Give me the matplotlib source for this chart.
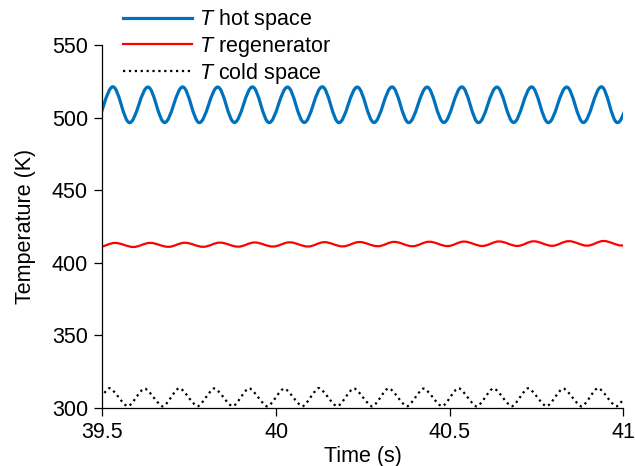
import matplotlib
matplotlib.use("Agg")
import matplotlib.pyplot as plt
from matplotlib.path import Path
from matplotlib.patches import PathPatch
from matplotlib.lines import Line2D

plt.rcParams['font.family'] = ['Liberation Sans', 'DejaVu Sans']
plt.rcParams['mathtext.fontset'] = 'custom'
plt.rcParams['mathtext.it'] = 'Liberation Sans:italic'
plt.rcParams['mathtext.rm'] = 'Liberation Sans'

# turning points (time in s, temperature in K),
# one before the visible window and one after it so the curves run to the edges
hot_t = [39.478, 39.530, 39.578, 39.631, 39.679, 39.731, 39.779, 39.832, 39.880,
         39.932, 39.980, 40.033, 40.081, 40.133, 40.181, 40.234, 40.282, 40.334,
         40.382, 40.435, 40.483, 40.535, 40.583, 40.636, 40.684, 40.736, 40.784,
         40.837, 40.885, 40.937, 40.983, 41.036]
hot_T = [496.6, 521.2, 496.5, 521.0, 496.6, 521.1, 496.5, 521.0, 496.6,
         521.1, 496.5, 521.0, 496.6, 521.2, 496.5, 521.0, 496.6, 521.1,
         496.5, 521.0, 496.6, 521.1, 496.5, 521.0, 496.6, 521.1, 496.5,
         521.0, 496.6, 521.2, 496.5, 521.0]

regen_t = [39.488, 39.536, 39.589, 39.637, 39.690, 39.737, 39.790, 39.838, 39.891,
           39.938, 39.991, 40.039, 40.092, 40.139, 40.192, 40.240, 40.293, 40.340,
           40.393, 40.441, 40.494, 40.541, 40.594, 40.642, 40.695, 40.742, 40.795,
           40.843, 40.896, 40.943, 40.996, 41.044]
regen_T = [410.7, 413.6, 410.8, 413.6, 410.9, 413.7, 410.9, 413.8, 411.0,
           413.9, 411.1, 414.0, 411.1, 414.1, 411.2, 414.2, 411.3, 414.3,
           411.3, 414.4, 411.4, 414.5, 411.5, 414.6, 411.5, 414.7, 411.6,
           414.8, 411.7, 414.9, 411.8, 414.9]

cold_t = [39.473, 39.520, 39.573, 39.621, 39.674, 39.721, 39.774, 39.822, 39.875,
          39.922, 39.975, 40.023, 40.076, 40.123, 40.176, 40.224, 40.277, 40.324,
          40.377, 40.425, 40.478, 40.525, 40.578, 40.626, 40.679, 40.726, 40.779,
          40.827, 40.880, 40.927, 40.980, 41.028]
cold_T = [301.0, 313.4, 301.0, 313.2, 300.9, 313.5, 301.0, 313.3, 301.0,
          313.4, 300.9, 313.2, 301.0, 313.5, 301.0, 313.3, 300.9, 313.4,
          301.0, 313.2, 301.0, 313.5, 300.9, 313.3, 301.0, 313.4, 301.0,
          313.2, 300.9, 313.5, 301.0, 313.3]

x_ticks = [39.5, 40, 40.5, 41]
x_ticklabels = ['39.5', '40', '40.5', '41']
y_ticks = [300, 350, 400, 450, 500, 550]

labels = ['$T$ hot space', '$T$ regenerator', '$T$ cold space']

FS = 15.5


def smooth_path(ts, vs, k):
    """Кривая через точки экстремумов, горизонтальные касательные в каждой"""
    verts = [(ts[0], vs[0])]
    codes = [Path.MOVETO]
    for i in range(len(ts) - 1):
        dt = ts[i + 1] - ts[i]
        verts += [(ts[i] + k * dt, vs[i]), (ts[i + 1] - k * dt, vs[i + 1]),
                  (ts[i + 1], vs[i + 1])]
        codes += [Path.CURVE4] * 3
    return Path(verts, codes)


fig = plt.figure(figsize=(6.35, 4.66), dpi=100)
ax = fig.add_axes([0.1614, 0.1251, 0.8202, 0.7783])

styles = [
    dict(color='#0072BD', lw=2.3, ls='-'),
    dict(color='#FF0000', lw=1.6, ls='-'),
    dict(color='black', lw=1.6, ls=':'),
]
series = [(hot_t, hot_T, 0.36), (regen_t, regen_T, 0.36), (cold_t, cold_T, 0.24)]

for (ts, vs, k), st in zip(series, styles):
    patch = PathPatch(smooth_path(ts, vs, k), fill=False, edgecolor=st['color'],
                      lw=st['lw'], linestyle=st['ls'])
    ax.add_patch(patch)

ax.set_xlim(39.5, 41)
ax.set_ylim(300, 550)
ax.set_xticks(x_ticks)
ax.set_xticklabels(x_ticklabels)
ax.set_yticks(y_ticks)
ax.tick_params(direction='out', length=5.5, width=0.9, pad=5, labelsize=FS)
for side in ['top', 'right']:
    ax.spines[side].set_visible(False)
for side in ['left', 'bottom']:
    ax.spines[side].set_linewidth(0.9)

ax.set_xlabel('Time (s)', fontsize=FS, labelpad=2)
ax.set_ylabel('Temperature (K)', fontsize=FS, labelpad=11)

handles = [Line2D([], [], color=st['color'], lw=st['lw'], ls=st['ls']) for st in styles]
fig.legend(handles, labels, loc='upper left', bbox_to_anchor=(0.1937, 0.984),
           frameon=False, fontsize=FS, handlelength=3.2, handletextpad=0.35,
           labelspacing=0.1, borderpad=0, borderaxespad=0)

fig.savefig('out.png', dpi=100)
